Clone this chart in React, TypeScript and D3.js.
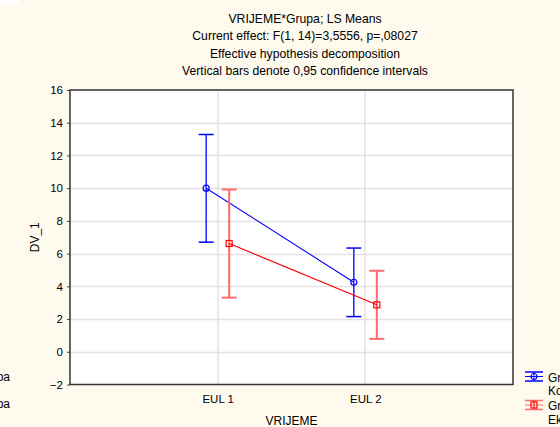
import React, { useRef, useEffect } from "react";
import * as d3 from "d3";

const categories = ["EUL 1", "EUL 2"];
const groups = ["Kontrolna", "Eksperimentalna"];
const means = [
  [10.0, 4.25],
  [6.62, 2.87],
];
const ciLow = [
  [6.7, 2.15],
  [3.31, 0.79],
];
const ciHigh = [
  [13.28, 6.34],
  [9.92, 4.95],
];
const yTicks = [-2, 0, 2, 4, 6, 8, 10, 12, 14, 16];
const titleLines = [
  "VRIJEME*Grupa; LS Means",
  "Current effect: F(1, 14)=3,5556, p=,08027",
  "Effective hypothesis decomposition",
  "Vertical bars denote 0,95 confidence intervals",
];

const colors = ["#0000ff", "#ff0000"];
const barColors = ["#0000ff", "#ff6b6b"];
const offsets = [-11.5, 11.5];

function App() {
  const svgRef = useRef(null);

  useEffect(() => {
    const svg = d3.select(svgRef.current);
    svg.selectAll("*").remove();

    const width = 560;
    const height = 427;
    const margin = { left: 70, right: 47, top: 90, bottom: 42.5 };
    const font = "'Liberation Sans', Arial, sans-serif";

    svg.append("rect").attr("width", width).attr("height", height).attr("fill", "#fefaee");
    svg.append("rect").attr("width", 19).attr("height", 4).attr("fill", "#ffffff");

    const x = d3
      .scaleLinear()
      .domain([0, categories.length + 1])
      .range([margin.left, width - margin.right]);
    const y = d3
      .scaleLinear()
      .domain([-2, 16])
      .range([height - margin.bottom, margin.top]);

    // plot background
    svg
      .append("rect")
      .attr("x", margin.left)
      .attr("y", margin.top)
      .attr("width", width - margin.left - margin.right)
      .attr("height", height - margin.top - margin.bottom)
      .attr("fill", "#ffffff");

    // grid
    const grid = svg.append("g").attr("stroke", "#e2e2e2").attr("stroke-width", 1.5);
    yTicks.slice(1, -1).forEach((t) => {
      grid
        .append("line")
        .attr("x1", margin.left)
        .attr("x2", width - margin.right)
        .attr("y1", Math.round(y(t)) + 0.5)
        .attr("y2", Math.round(y(t)) + 0.5);
    });
    categories.forEach((c, i) => {
      grid
        .append("line")
        .attr("x1", Math.round(x(i + 1)))
        .attr("x2", Math.round(x(i + 1)))
        .attr("y1", margin.top)
        .attr("y2", height - margin.bottom);
    });

    // y axis
    const yAxis = svg
      .append("g")
      .attr("transform", `translate(${margin.left},0)`)
      .call(d3.axisLeft(y).tickValues(yTicks).tickSize(3).tickPadding(4))
      .call((g) => g.select(".domain").remove());
    yAxis.selectAll("line").attr("stroke", "#444");
    yAxis.selectAll("text").attr("font-family", font).attr("font-size", 11.5).attr("fill", "#000");

    // x axis
    const xAxis = svg
      .append("g")
      .attr("transform", `translate(0,${height - margin.bottom})`)
      .call(
        d3
          .axisBottom(x)
          .tickValues(categories.map((c, i) => i + 1))
          .tickFormat((d) => categories[+d - 1])
          .tickSize(0)
          .tickPadding(10)
      )
      .call((g) => g.select(".domain").remove());
    xAxis.selectAll("text").attr("font-family", font).attr("font-size", 11.5).attr("fill", "#000");

    // frame
    svg
      .append("rect")
      .attr("x", margin.left)
      .attr("y", margin.top)
      .attr("width", width - margin.left - margin.right)
      .attr("height", height - margin.top - margin.bottom)
      .attr("fill", "none")
      .attr("stroke", "#333")
      .attr("stroke-width", 1.5);

    // series
    groups.forEach((g, gi) => {
      const pts = categories.map((c, ci) => ({
        x: x(ci + 1) + offsets[gi],
        m: means[gi][ci],
        lo: ciLow[gi][ci],
        hi: ciHigh[gi][ci],
      }));
      const layer = svg.append("g");
      pts.forEach((p) => {
        layer
          .append("line")
          .attr("x1", p.x)
          .attr("x2", p.x)
          .attr("y1", y(p.lo))
          .attr("y2", y(p.hi))
          .attr("stroke", barColors[gi])
          .attr("stroke-width", gi === 0 ? 1.3 : 2);
        [p.lo, p.hi].forEach((v) => {
          layer
            .append("line")
            .attr("x1", p.x - 7.5)
            .attr("x2", p.x + 7.5)
            .attr("y1", y(v))
            .attr("y2", y(v))
            .attr("stroke", barColors[gi])
            .attr("stroke-width", gi === 0 ? 1.5 : 2);
        });
      });
      layer
        .append("path")
        .attr(
          "d",
          d3
            .line()
            .x((d) => d.x)
            .y((d) => y(d.m))(pts)
        )
        .attr("fill", "none")
        .attr("stroke", colors[gi])
        .attr("stroke-width", 1.1);
      pts.forEach((p) => {
        if (gi === 0) {
          layer
            .append("circle")
            .attr("cx", p.x)
            .attr("cy", y(p.m))
            .attr("r", 3)
            .attr("fill", "none")
            .attr("stroke", colors[gi])
            .attr("stroke-width", 1.2);
        } else {
          layer
            .append("rect")
            .attr("x", p.x - 3)
            .attr("y", y(p.m) - 3)
            .attr("width", 6)
            .attr("height", 6)
            .attr("fill", "none")
            .attr("stroke", colors[gi])
            .attr("stroke-width", 1.2);
        }
      });
    });

    // titles
    svg
      .append("g")
      .selectAll("text")
      .data(titleLines)
      .join("text")
      .attr("x", 305)
      .attr("y", (d, i) => 23 + i * 17.4)
      .attr("text-anchor", "middle")
      .attr("font-family", font)
      .attr("font-size", 12.2)
      .attr("fill", "#000")
      .text((d) => d);

    svg
      .append("text")
      .attr("x", (margin.left + width - margin.right) / 2)
      .attr("y", 425)
      .attr("text-anchor", "middle")
      .attr("font-family", font)
      .attr("font-size", 12)
      .text("VRIJEME");

    svg
      .append("text")
      .attr("transform", `translate(39,${(margin.top + height - margin.bottom) / 2}) rotate(-90)`)
      .attr("text-anchor", "middle")
      .attr("font-family", font)
      .attr("font-size", 12)
      .text("DV_1");

    // clipped legend labels on the left
    [381, 408].forEach((yy) => {
      svg
        .append("text")
        .attr("x", 10)
        .attr("y", yy)
        .attr("text-anchor", "end")
        .attr("font-family", font)
        .attr("font-size", 12)
        .text("Grupa");
    });

    // legend on the right
    const legY = [376.5, 405];
    groups.forEach((g, gi) => {
      const lg = svg.append("g").attr("transform", `translate(534,${legY[gi]})`);
      [-4.5, 0, 4.5].forEach((dy) => {
        lg.append("line")
          .attr("x1", -9)
          .attr("x2", 9)
          .attr("y1", dy)
          .attr("y2", dy)
          .attr("stroke", barColors[gi])
          .attr("stroke-width", dy === 0 ? 1 : 1.5);
      });
      lg.append("line")
        .attr("x1", 0)
        .attr("x2", 0)
        .attr("y1", -4.5)
        .attr("y2", 4.5)
        .attr("stroke", colors[gi]);
      if (gi === 0) {
        lg.append("circle").attr("r", 3).attr("fill", "none").attr("stroke", colors[gi]).attr("stroke-width", 1.2);
      } else {
        lg.append("rect")
          .attr("x", -3)
          .attr("y", -3)
          .attr("width", 6)
          .attr("height", 6)
          .attr("fill", "none")
          .attr("stroke", colors[gi])
          .attr("stroke-width", 1.2);
      }
      lg.append("text")
        .attr("x", 14)
        .attr("y", 5)
        .attr("font-family", font)
        .attr("font-size", 12)
        .text("Grupa");
      lg.append("text")
        .attr("x", 14)
        .attr("y", 18.5)
        .attr("font-family", font)
        .attr("font-size", 12)
        .text(g);
    });
  }, []);

  return (
    <div style={{ position: "absolute", left: 0, top: 0 }}>
      <svg ref={svgRef} width={560} height={427} style={{ display: "block" }}></svg>
    </div>
  );
}

export default App;
